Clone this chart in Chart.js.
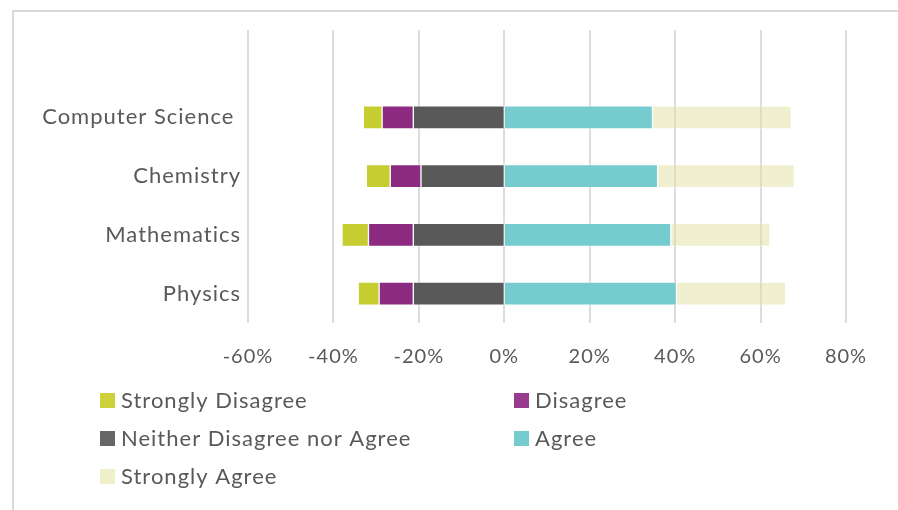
<!DOCTYPE html>
<html>
<head>
<meta charset="utf-8">
<script src="https://cdn.jsdelivr.net/npm/chart.js@4.4.1/dist/chart.umd.min.js"></script>
<style>
  html, body { margin: 0; padding: 0; background: #fff; }
  #wrap { position: relative; width: 898px; height: 510px; overflow: hidden; }
  #frame { position: absolute; left: 12px; top: 10px; width: 1000px; height: 1000px;
           border-top: 2px solid #d9d9d9; border-left: 2px solid #d9d9d9; box-sizing: border-box; }
  canvas { position: absolute; left: 0; top: 0; }
</style>
</head>
<body>
<div id="wrap">
  <div id="frame"></div>
  <canvas id="c" width="898" height="510"></canvas>
</div>
<script>
// Survey responses by subject, in percent
const subjects = ['Computer Science ', 'Chemistry', 'Mathematics', 'Physics'];
const stronglyDisagree = [4.4, 5.6, 6.2, 4.9];
const disagree = [7.3, 7.2, 10.5, 8.0];
const neither = [21.3, 19.5, 21.3, 21.3];
const agree = [34.7, 35.9, 39.0, 40.3];
const stronglyAgree = [32.5, 32.0, 23.2, 25.6];
const xTicks = [-60, -40, -20, 0, 20, 40, 60, 80];

const FONT = 'Lato, "Open Sans", sans-serif';
const TEXT = '#595959';

// Disagreement is plotted to the left of zero; datasets nearest zero come first
const neg = arr => arr.map(v => -v);
const datasets = [
  { label: 'Neither Disagree nor Agree', data: neg(neither), backgroundColor: '#595959', legendColor: '#666666' },
  { label: 'Disagree', data: neg(disagree), backgroundColor: '#8b2a80', legendColor: '#983a8d' },
  { label: 'Strongly Disagree', data: neg(stronglyDisagree), backgroundColor: '#c5cd30', legendColor: '#cdd23a' },
  { label: 'Agree', data: agree, backgroundColor: '#76cbce', legendColor: '#76cbce' },
  { label: 'Strongly Agree', data: stronglyAgree, backgroundColor: 'rgba(222,222,150,0.45)', legendColor: '#efefc9' }
].map(d => Object.assign(d, {
  borderColor: 'rgba(255,255,255,0.35)',
  borderWidth: 1,
  borderSkipped: false,
  barThickness: 23,
  stack: 'all'
}));

const legendOrder = ['Strongly Disagree', 'Disagree', 'Neither Disagree nor Agree', 'Agree', 'Strongly Agree'];

// Slightly looser text tracking for all canvas text
const tracking = {
  id: 'tracking',
  beforeLayout(chart) { chart.ctx.letterSpacing = '1px'; },
  beforeDraw(chart) { chart.ctx.letterSpacing = '1px'; }
};

// Vertical gridlines that reach up past the first category
const tallGrid = {
  id: 'tallGrid',
  beforeDatasetsDraw(chart) {
    const { ctx, chartArea, scales } = chart;
    ctx.save();
    ctx.strokeStyle = '#dcdcdc';
    ctx.lineWidth = 2;
    xTicks.forEach(v => {
      const x = Math.round(scales.x.getPixelForValue(v));
      ctx.beginPath();
      ctx.moveTo(x, 30);
      ctx.lineTo(x, chartArea.bottom);
      ctx.stroke();
    });
    ctx.restore();
  }
};

// Two-column legend below the axis
const gridLegend = {
  id: 'gridLegend',
  afterDraw(chart) {
    const { ctx } = chart;
    const colX = [100, 514];
    const rowY = [400, 438, 476];
    ctx.save();
    ctx.letterSpacing = '1px';
    ctx.font = '22px ' + FONT;
    ctx.textBaseline = 'middle';
    ctx.textAlign = 'left';
    legendOrder.forEach((name, i) => {
      const ds = chart.data.datasets.find(d => d.label === name);
      const x = colX[i % 2];
      const y = rowY[Math.floor(i / 2)];
      ctx.fillStyle = ds.legendColor;
      ctx.fillRect(x, y - 7, 15, 15);
      ctx.fillStyle = TEXT;
      ctx.fillText(name, x + 21, y + 1);
    });
    ctx.restore();
  }
};

new Chart(document.getElementById('c'), {
  type: 'bar',
  data: { labels: subjects, datasets },
  plugins: [tracking, tallGrid, gridLegend],
  options: {
    indexAxis: 'y',
    responsive: false,
    animation: false,
    layout: { padding: { top: 88, bottom: 137, left: 0, right: 52 } },
    plugins: { legend: { display: false }, tooltip: { enabled: false } },
    scales: {
      x: {
        stacked: true,
        min: -60, max: 80,
        afterBuildTicks(scale) { scale.ticks = xTicks.map(v => ({ value: v })); },
        afterFit(scale) { scale.height = 50; },
        grid: { display: false, drawTicks: false },
        border: { display: false },
        ticks: {
          color: TEXT,
          font: { family: FONT, size: 20 },
          padding: 22,
          callback: v => v + '%'
        }
      },
      y: {
        stacked: true,
        afterFit(scale) { scale.width = 248; },
        grid: { display: false, drawTicks: false },
        border: { display: false },
        ticks: {
          color: TEXT,
          font: { family: FONT, size: 22 },
          padding: 7
        }
      }
    }
  }
});
</script>
</body>
</html>
